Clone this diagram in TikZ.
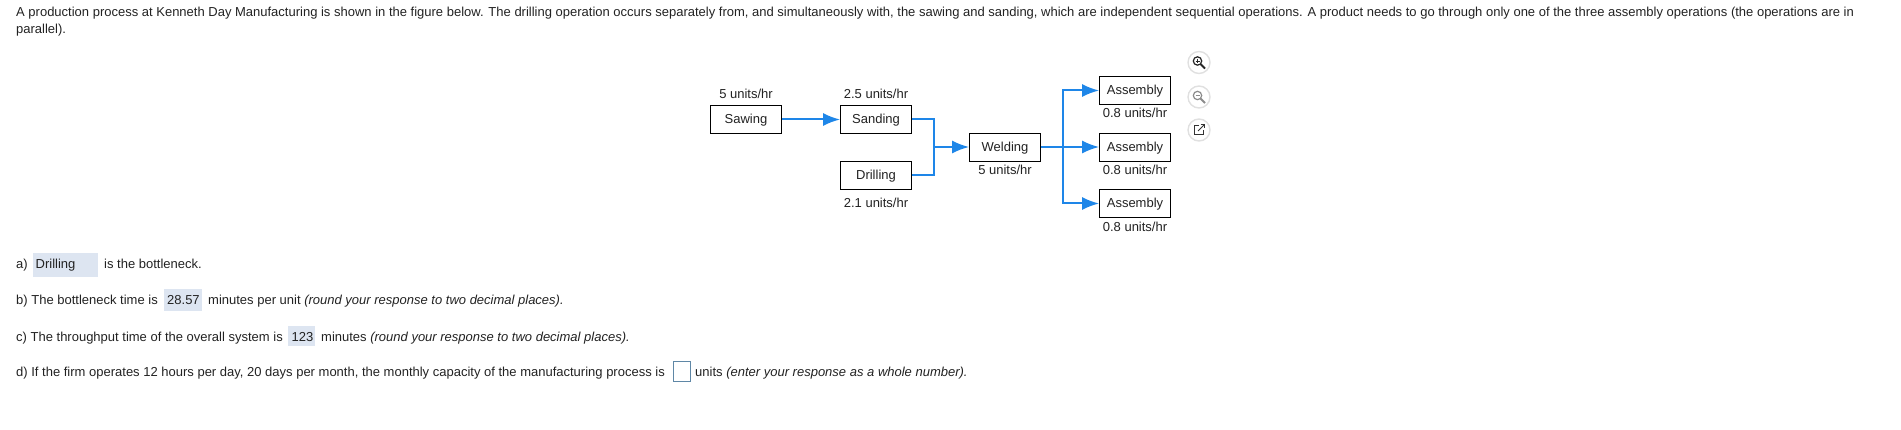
\documentclass[tikz,border=0pt]{standalone}
\usepackage{fontspec}
\setmainfont{Liberation Sans}
\usetikzlibrary{arrows.meta, calc, positioning}

\definecolor{flowblue}{HTML}{1E86E8}
\definecolor{fieldblue}{HTML}{DDE5F1}
\definecolor{inkgray}{HTML}{222222}
\definecolor{inputedge}{HTML}{5F87A6}

\tikzset{
	opbox/.style={draw=black, line width=0.8pt, fill=white, minimum width=71pt, minimum height=28pt, inner sep=0pt, font=\fontsize{13}{15}\selectfont, text=inkgray, text height=10.5pt, text depth=1.5pt},
	ratelabel/.style={inner sep=0pt, font=\fontsize{13}{15}\selectfont, text=inkgray, text height=9.3pt, text depth=0pt},
	qtext/.style={anchor=west, inner sep=0pt, font=\fontsize{13}{15}\selectfont, text=inkgray, text height=9.3pt, text depth=2.7pt},
	field/.style={fill=fieldblue, inner sep=0pt},
	flow/.style={draw=flowblue, line width=2pt},
	flowarrow/.style={flow, -{Latex[length=17pt, width=13pt]}},
	iconring/.style={draw=black!12, line width=1.4pt, fill=white},
}

\begin{document}
\begin{tikzpicture}[x=1pt, y=-1pt]
	\useasboundingbox (0,0) rectangle (1901,430);
	
	% -------------------------------------------------
	% 1. Problem statement
	% -------------------------------------------------
	\node[qtext] (Intro) at (16,13) {A production process at Kenneth Day Manufacturing is shown in the figure below. The drilling operation occurs separately from, and simultaneously with, the sawing and sanding, which are independent sequential operations. A product needs to go through only one of the three assembly operations (the operations are in};
	\node[qtext] (IntroEnd) at (16,30.5) {parallel).};
	
	% -------------------------------------------------
	% 2. Operations
	% -------------------------------------------------
	\node[opbox] (Sawing) at (746,119.5) {Sawing};
	\node[opbox] (Sanding) at (876,119.5) {Sanding};
	\node[opbox] (Drilling) at (876,175.5) {Drilling};
	\node[opbox] (Welding) at (1005,147) {Welding};
	\node[opbox] (AssemblyA) at (1135,90.5) {Assembly};
	\node[opbox] (AssemblyB) at (1135,147) {Assembly};
	\node[opbox] (AssemblyC) at (1135,203.5) {Assembly};
	
	% Rates
	\node[ratelabel, above=6pt of Sawing] (RateSawing) {5 units/hr};
	\node[ratelabel, above=6pt of Sanding] (RateSanding) {2.5 units/hr};
	\node[ratelabel, below=8.5pt of Drilling] (RateDrilling) {2.1 units/hr};
	\node[ratelabel, below=4pt of Welding] (RateWelding) {5 units/hr};
	\node[ratelabel, below=3.5pt of AssemblyA] (RateAssemblyA) {0.8 units/hr};
	\node[ratelabel, below=4pt of AssemblyB] (RateAssemblyB) {0.8 units/hr};
	\node[ratelabel, below=4pt of AssemblyC] (RateAssemblyC) {0.8 units/hr};
	
	% -------------------------------------------------
	% 3. Flow lines
	% -------------------------------------------------
	\coordinate (JoinIn) at (933.5,147);
	\coordinate (JoinOut) at (1063,147);
	\draw[flowarrow] (Sawing) -- (Sanding);
	\draw[flow] (Sanding.east) -| (JoinIn);
	\draw[flow] (Drilling.east) -| (JoinIn);
	\draw[flowarrow] (JoinIn) -- (Welding);
	\draw[flow] (Welding) -- (JoinOut);
	\draw[flowarrow] (JoinOut) |- (AssemblyA);
	\draw[flowarrow] (JoinOut) -- (AssemblyB);
	\draw[flowarrow] (JoinOut) |- (AssemblyC);
	
	% -------------------------------------------------
	% 4. Questions and answer fields
	% -------------------------------------------------
	\node[qtext] (QuestionA) at (16,265.5) {a)};
	\node[field, minimum width=65pt, minimum height=23.5pt] (FieldA) at (65.5,265) {};
	\node[qtext] (AnswerA) at (35.5,265.5) {Drilling};
	\node[qtext] (TailA) at (104,265.5) {is the bottleneck.};
	
	\node[qtext] (QuestionB) at (16,301.5) {b) The bottleneck time is};
	\node[field, minimum width=38pt, minimum height=21.5pt] (FieldB) at (183,300) {};
	\node[qtext] (AnswerB) at (167,301.5) {28.57};
	\node[qtext] (TailB) at (208,301.5) {minutes per unit \textit{(round your response to two decimal places).}};
	
	\node[qtext] (QuestionC) at (16,338) {c) The throughput time of the overall system is};
	\node[field, minimum width=27pt, minimum height=20pt] (FieldC) at (301.5,336) {};
	\node[qtext] (AnswerC) at (291.5,338) {123};
	\node[qtext] (TailC) at (321,338) {minutes \textit{(round your response to two decimal places).}};
	
	\node[qtext] (QuestionD) at (16,373) {d) If the firm operates 12 hours per day, 20 days per month, the monthly capacity of the manufacturing process is};
	\node[draw=inputedge, line width=0.8pt, fill=white, minimum width=17pt, minimum height=20.5pt, inner sep=0pt] (FieldD) at (681.5,371.5) {};
	\node[qtext] (TailD) at (695,373) {units \textit{(enter your response as a whole number).}};
	
	% -------------------------------------------------
	% 5. Side icons
	% -------------------------------------------------
	% Zoom in
	\begin{scope}[shift={(1199,62.5)}]
		\draw[iconring] (0,0) circle (11);
		\draw[black!85, line width=1.2pt] (-1.5,-1.5) circle (4.2);
		\draw[black!85, line width=2pt] (1.5,1.5) -- (6,6);
		\draw[black!85, line width=0.8pt] (-3.5,-1.5) -- (0.5,-1.5) (-1.5,-3.5) -- (-1.5,0.5);
	\end{scope}
	% Zoom out
	\begin{scope}[shift={(1199,97)}]
		\draw[iconring] (0,0) circle (11);
		\draw[black!45, line width=1.2pt] (-1.5,-1.5) circle (4.2);
		\draw[black!45, line width=2pt] (1.5,1.5) -- (6,6);
		\draw[black!45, line width=0.8pt] (-3.5,-1.5) -- (0.5,-1.5);
	\end{scope}
	% Open in new window
	\begin{scope}[shift={(1199,130)}]
		\draw[iconring] (0,0) circle (11);
		\draw[black!80, line width=1pt] (0,-4.5) -- (-5,-4.5) -- (-5,5) -- (4.5,5) -- (4.5,0);
		\draw[black!80, line width=1pt] (-1,1) -- (5.5,-5.5);
		\draw[black!80, line width=1pt] (1.5,-5.5) -- (5.5,-5.5) -- (5.5,-1.5);
	\end{scope}
	
\end{tikzpicture}
\end{document}
